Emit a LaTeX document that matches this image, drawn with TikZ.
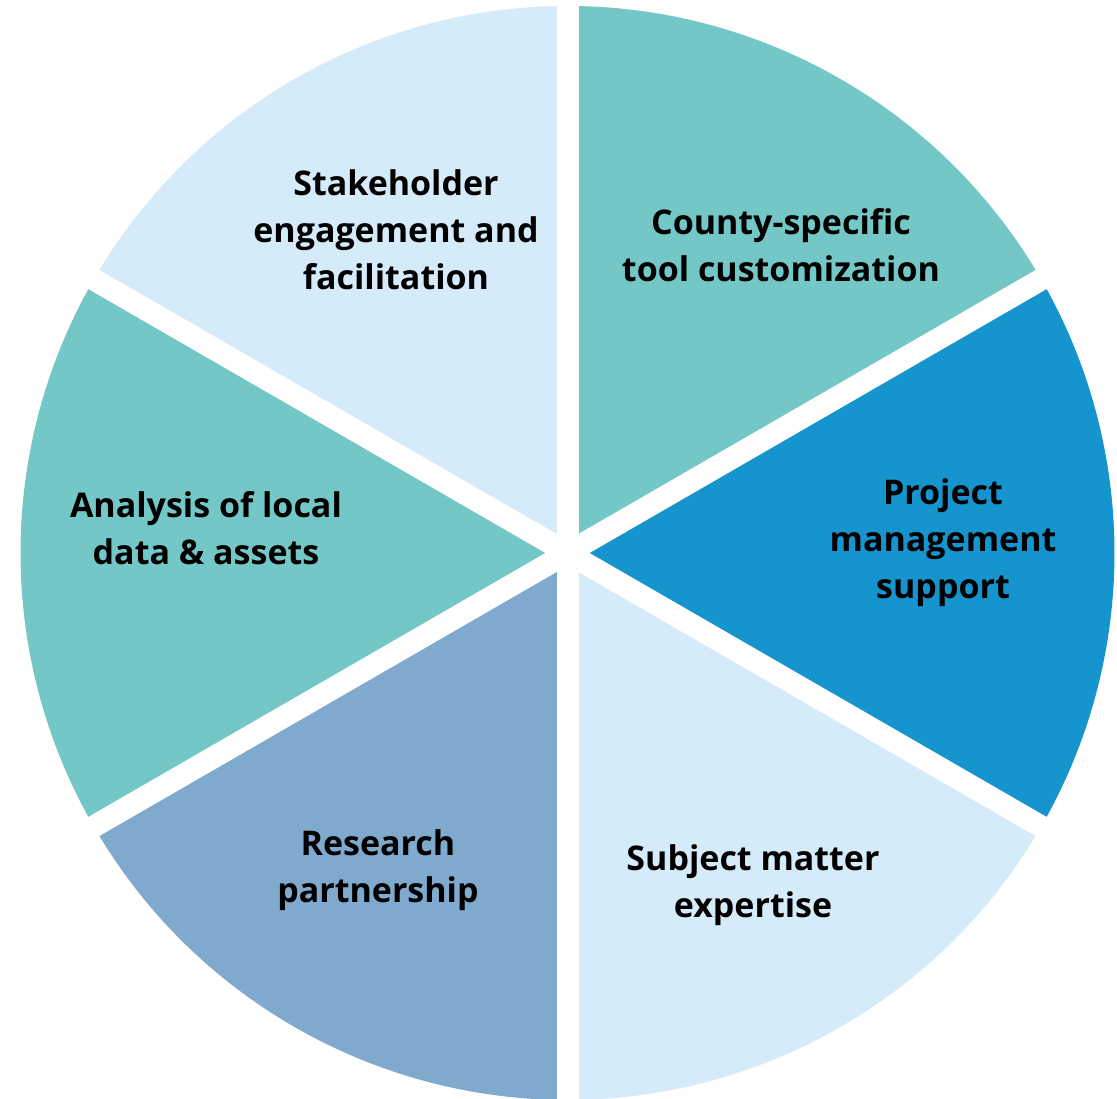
\documentclass[tikz,border=0pt]{standalone}
\usepackage{fontspec}
\setmainfont{Open Sans}
\definecolor{lightblu}{RGB}{214,235,250}
\definecolor{tealc}{RGB}{115,199,199}
\definecolor{bluec}{RGB}{21,148,206}
\definecolor{steelc}{RGB}{128,169,206}
\begin{document}
\begin{tikzpicture}[x=1pt,y=1pt,
  lbl/.style={font=\bfseries\fontsize{34}{47}\selectfont, align=center, text=black, inner sep=0pt},
  gap/.style={white, line width=22pt}]
\useasboundingbox (0,0) rectangle (1117,1099);
\coordinate (c) at (567.5,546);
\def\R{547}
\fill[lightblu] (c) -- ++(90:\R) arc[start angle=90, end angle=150, radius=\R] -- cycle;
\fill[tealc] (c) -- ++(30:\R) arc[start angle=30, end angle=90, radius=\R] -- cycle;
\fill[bluec] (c) -- ++(-30:\R) arc[start angle=-30, end angle=30, radius=\R] -- cycle;
\fill[lightblu] (c) -- ++(-90:\R) arc[start angle=-90, end angle=-30, radius=\R] -- cycle;
\fill[steelc] (c) -- ++(210:\R) arc[start angle=210, end angle=270, radius=\R] -- cycle;
\fill[tealc] (c) -- ++(150:\R) arc[start angle=150, end angle=210, radius=\R] -- cycle;
\draw[gap] ([shift={(90:570)}]c) -- ([shift={(270:570)}]c);
\draw[gap] ([shift={(30:570)}]c) -- ([shift={(210:570)}]c);
\draw[gap] ([shift={(150:570)}]c) -- ([shift={(330:570)}]c);
\node[lbl] (stake) at (396,869) {Stakeholder\\engagement and\\facilitation};
\node[lbl] (county) at (781,854) {County-specific\\tool customization};
\node[lbl] (project) at (943,556) {Project\\management\\support};
\node[lbl] (subject) at (753,214) {Subject matter\\expertise};
\node[lbl] (research) at (378,229) {Research\\partnership};
\node[lbl] (analysis) at (206,571) {Analysis of local\\data \& assets};
\end{tikzpicture}
\end{document}
